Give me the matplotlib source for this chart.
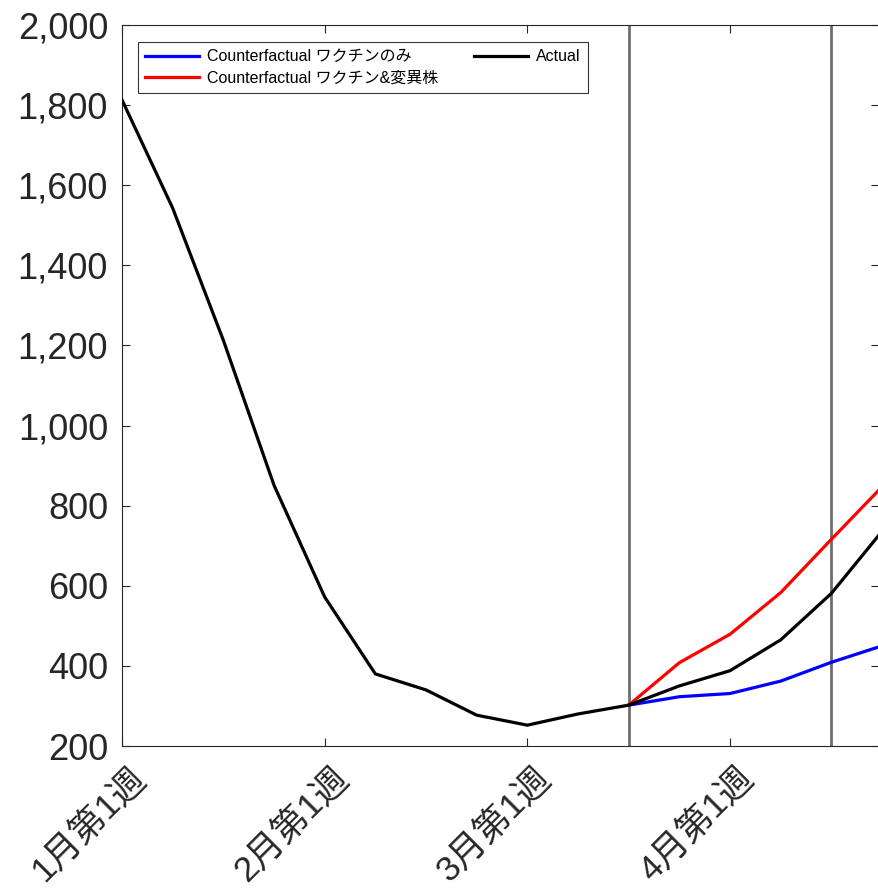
import matplotlib
matplotlib.use("Agg")
import matplotlib.pyplot as plt
import matplotlib.transforms as mtransforms
from matplotlib.ticker import FuncFormatter

weeks_actual = list(range(0, 16))
actual = [1813, 1543, 1213, 851, 572, 380, 340, 277, 252, 280, 302, 350, 388, 465, 581, 736]
weeks_cf = [10, 11, 12, 13, 14, 15]
cf_vaccine = [302, 323, 331, 362, 409, 450]
cf_vaccine_variant = [302, 408, 479, 583, 716, 847]
vlines = [10, 14]
xtick_pos = [0, 4, 8, 12]
xtick_labels = ["1月第1週", "2月第1週", "3月第1週", "4月第1週"]
yticks = [200, 400, 600, 800, 1000, 1200, 1400, 1600, 1800, 2000]

fam = ["Liberation Sans", "Noto Sans CJK JP", "DejaVu Sans"]
plt.rcParams["font.family"] = fam

fig = plt.figure(figsize=(8.79, 8.91), dpi=100)
W, H = 879, 891
ax = fig.add_axes([122 / W, 1 - 746 / H, 1 - 122 / W, (746 - 25) / H])

for v in vlines:
    ax.axvline(v, color="#6e6e6e", lw=2, zorder=1)

l_blue, = ax.plot(weeks_cf, cf_vaccine, color="#0000ff", lw=2.3, zorder=3,
                  label="Counterfactual ワクチンのみ")
l_red, = ax.plot(weeks_cf, cf_vaccine_variant, color="#ff0000", lw=2.3, zorder=3,
                 label="Counterfactual ワクチン&変異株")
l_black, = ax.plot(weeks_actual, actual, color="black", lw=2.3, zorder=4,
                   label="Actual")

ax.set_xlim(0, 14.94)
ax.set_ylim(200, 2000)
ax.set_yticks(yticks)
ax.yaxis.set_major_formatter(FuncFormatter(lambda v, p: f"{int(v):,}"))
ax.set_xticks(xtick_pos)
ax.set_xticklabels(xtick_labels, rotation=45, ha="right", rotation_mode="anchor")

for lab in ax.get_yticklabels():
    lab.set_fontsize(26)
    lab.set_color("#262626")
    lab.set_family(fam)
for lab in ax.get_xticklabels():
    lab.set_fontsize(25.5)
    lab.set_color("#262626")
    lab.set_family(fam)

ax.tick_params(direction="in", length=6, width=0.8, color="#262626",
               top=True, right=True)
ax.tick_params(axis="y", pad=10)
ax.tick_params(axis="x", pad=10)
offset = mtransforms.ScaledTranslation(6 / 100, -1 / 100, fig.dpi_scale_trans)
for lab in ax.get_xticklabels():
    lab.set_transform(lab.get_transform() + offset)

for s in ["left", "bottom", "top"]:
    ax.spines[s].set_color("#262626")
    ax.spines[s].set_linewidth(0.8)
ax.spines["right"].set_visible(False)

leg = ax.legend(handles=[l_blue, l_red, l_black], ncol=2, loc="upper left",
                bbox_to_anchor=(16 / 757, 1 - 17 / 721), borderaxespad=0,
                fontsize=11.5, frameon=True, fancybox=False, edgecolor="black",
                handlelength=3.4, columnspacing=2.2, borderpad=0.45,
                labelspacing=0.4, handletextpad=0.5)
leg.get_frame().set_linewidth(0.8)
for t in leg.get_texts():
    t.set_family(fam)

fig.savefig("out.png", dpi=100)
